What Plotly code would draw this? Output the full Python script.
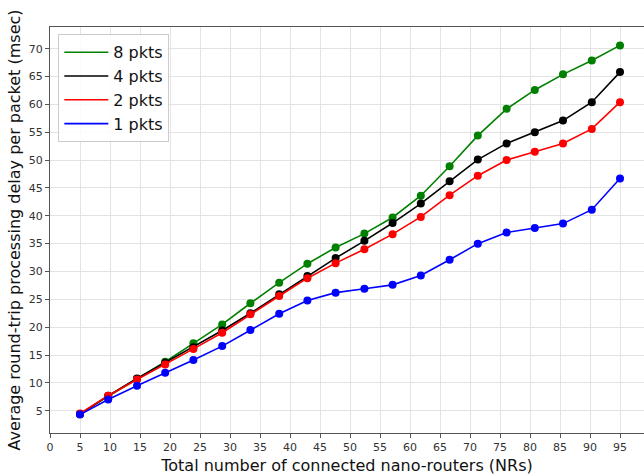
import plotly.graph_objects as go

nrs = [5, 9.7, 14.5, 19.2, 23.9, 28.7, 33.4, 38.2, 42.9, 47.6,
       52.4, 57.1, 61.8, 66.6, 71.3, 76.1, 80.8, 85.5, 90.3, 95]
delay_8 = [4.4, 7.6, 10.7, 13.8, 17.1, 20.5, 24.3, 28.0, 31.4, 34.3,
           36.8, 39.7, 43.6, 48.9, 54.4, 59.2, 62.6, 65.4, 67.9, 70.6]
delay_4 = [4.4, 7.7, 10.8, 13.6, 16.4, 19.4, 22.5, 25.9, 29.2, 32.4,
           35.5, 38.7, 42.2, 46.2, 50.1, 53.0, 55.0, 57.1, 60.4, 65.8]
delay_2 = [4.5, 7.7, 10.6, 13.3, 16.1, 19.0, 22.3, 25.6, 28.8, 31.5,
           34.0, 36.7, 39.8, 43.7, 47.2, 50.0, 51.5, 53.0, 55.6, 60.4]
delay_1 = [4.3, 7.0, 9.5, 11.8, 14.1, 16.6, 19.5, 22.4, 24.8, 26.2,
           26.9, 27.6, 29.3, 32.1, 35.0, 37.0, 37.8, 38.6, 41.1, 46.7]

series = [("8 pkts", delay_8, "#008000"),
          ("4 pkts", delay_4, "#000000"),
          ("2 pkts", delay_2, "#ff0000"),
          ("1 pkts", delay_1, "#0000ff")]

x_ticks = list(range(0, 100, 5))
y_ticks = list(range(5, 75, 5))

fig = go.Figure()
for name, vals, col in series:
    fig.add_trace(go.Scatter(x=nrs, y=vals, mode="lines+markers", name=name,
                             line=dict(color=col, width=1.6),
                             marker=dict(color=col, size=8),
                             showlegend=False))
for name, vals, col in series:
    fig.add_trace(go.Scatter(x=[None], y=[None], mode="lines", name=name,
                             line=dict(color=col, width=1.6), showlegend=True))

axis_common = dict(showgrid=True, gridcolor="#e3e3e3", gridwidth=1,
                   showline=True, linecolor="#555555", linewidth=1.2,
                   ticks="outside", ticklen=4, tickcolor="#555555",
                   tickfont=dict(family="DejaVu Sans", size=11, color="#333333"),
                   zeroline=False)

fig.update_xaxes(range=[0, 99], tickvals=x_ticks, mirror=True,
                 title=dict(text="Total number of connected nano-routers (NRs)",
                            font=dict(family="DejaVu Sans", size=16, color="#111111"),
                            standoff=6),
                 **axis_common)
fig.update_yaxes(range=[1.0, 73.9], tickvals=y_ticks,
                 title=dict(text="Average round-trip processing delay per packet (msec)",
                            font=dict(family="DejaVu Sans", size=16, color="#111111"),
                            standoff=4),
                 **axis_common)

fig.update_layout(width=644, height=476,
                  margin=dict(l=50, r=0, t=27, b=43),
                  plot_bgcolor="white", paper_bgcolor="white",
                  font=dict(family="DejaVu Sans"),
                  legend=dict(x=0.014, y=0.982, xanchor="left", yanchor="top",
                              bgcolor="rgba(255,255,255,0.85)",
                              bordercolor="#cccccc", borderwidth=1,
                              itemwidth=44,
                              font=dict(family="DejaVu Sans", size=16, color="#111111"),
                              tracegroupgap=0))

fig.write_html("out.html")
